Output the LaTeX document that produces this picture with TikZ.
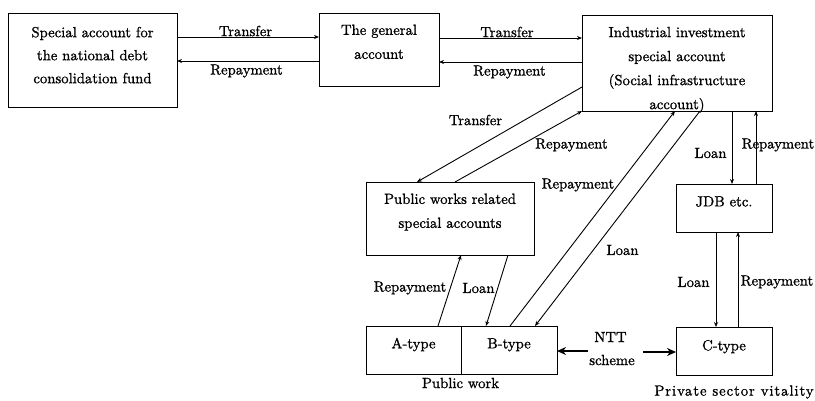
\documentclass[tikz,border=0pt]{standalone}
\usepackage{fontspec}
\setmainfont{lmroman10-regular}[Extension=.otf, FakeBold=1.0]
\usetikzlibrary{arrows.meta,calc}
\newcommand{\btext}[2]{\raisebox{#1}[0pt][0pt]{\begin{tabular}{@{}c@{}}#2\end{tabular}}}
\begin{document}
\begin{tikzpicture}[x=1pt,y=-1pt,
  font=\fontsize{14.7}{24}\selectfont,
  box/.style={draw, line width=0.9pt, inner sep=0pt, outer sep=0pt},
  arr/.style={-{Stealth[length=5pt,width=4pt]}, line width=0.9pt},
  nttarr/.style={-{Stealth[length=9pt,width=8pt]}, line width=2.2pt},
  lbl/.style={inner sep=0pt}]
\useasboundingbox[fill=white] (0,0) rectangle (815,400);

% boxes
\node[box, minimum width=169, minimum height=94] (b1) at (92.5,60)
  {\btext{1pt}{Special account for\\[-1pt]the national debt\\[-1pt]consolidation fund}};
\node[box, minimum width=120, minimum height=73] (b2) at (379,49.5)
  {\btext{3.85pt}{The general\\account}};
\node[box, minimum width=190, minimum height=96] (b3) at (677,63)
  {\btext{-8.9pt}{Industrial investment\\special account\\(Social infrastructure\\account)}};
\node[box, minimum width=168, minimum height=73] (pw) at (450,218.5)
  {\btext{3.85pt}{Public works related\\special accounts}};
\node[box, minimum width=95, minimum height=48] (at) at (413.5,350)
  {\btext{2.85pt}{A-type}};
\node[box, minimum width=96, minimum height=48] (bt) at (509,350)
  {\btext{2.85pt}{B-type}};
\node[box, minimum width=96, minimum height=48] (jdb) at (724,208)
  {\btext{2.85pt}{JDB etc.}};
\node[box, minimum width=96, minimum height=48] (ct) at (724,351)
  {\btext{1.85pt}{C-type}};

% top horizontal connectors
\draw[arr] (b1.east |- 0,37) -- (b2.west |- 0,37);
\draw[arr] (b2.west |- 0,61) -- (b1.east |- 0,61);
\draw[arr] (b2.east |- 0,38) -- (b3.west |- 0,38);
\draw[arr] (b3.west |- 0,62) -- (b2.east |- 0,62);

% industrial <-> public works
\draw[arr] (b3.west |- 0,87) -- (pw.north -| 417,0);
\draw[arr] (pw.north -| 455,0) -- (b3.south west);

% industrial <-> B-type
\draw[arr] (bt.north -| 510,0) -- (b3.south -| 675,0);
\draw[arr] (b3.south -| 700,0) -- (bt.north -| 535,0);

% industrial <-> JDB
\draw[arr] (b3.south -| 732,0) -- (jdb.north -| 732,0);
\draw[arr] (jdb.north -| 756,0) -- (b3.south -| 756,0);

% public works <-> A/B
\draw[arr] (at.north -| 438,0) -- (pw.south -| 461,0);
\draw[arr] (pw.south -| 508,0) -- (bt.north -| 486,0);

% JDB <-> C-type
\draw[arr] (jdb.south -| 716,0) -- (ct.north -| 716,0);
\draw[arr] (ct.north -| 738,0) -- (jdb.south -| 738,0);

% NTT scheme arrows
\coordinate (nttl) at (588,351);
\coordinate (nttr) at (643,352);
\draw[nttarr] (nttl) -- (bt.east |- 0,351);
\draw[nttarr] (nttr) -- (ct.west |- 0,352);

% labels
\node[lbl] at (245.5,31) {Transfer};
\node[lbl] at (246.5,71) {Repayment};
\node[lbl] at (507,32) {Transfer};
\node[lbl] at (509.5,72) {Repayment};
\node[lbl] at (475.5,120) {Transfer};
\node[lbl] at (571.5,145) {Repayment};
\node[lbl] at (578,185) {Repayment};
\node[lbl] at (622.5,250) {Loan};
\node[lbl] at (410,288) {Repayment};
\node[lbl] at (478.5,288) {Loan};
\node[lbl] at (610.5,337) {NTT};
\node[lbl] at (612,360) {scheme};
\node[lbl] at (460.5,383) {Public work};
\node[lbl] at (710.5,153) {Loan};
\node[lbl] at (778,145) {Repayment};
\node[lbl] at (693.5,282) {Loan};
\node[lbl] at (777,282) {Repayment};
\node[lbl] at (734,392) {\addfontfeature{LetterSpace=6.5}Private sector vitality};
\end{tikzpicture}
\end{document}
